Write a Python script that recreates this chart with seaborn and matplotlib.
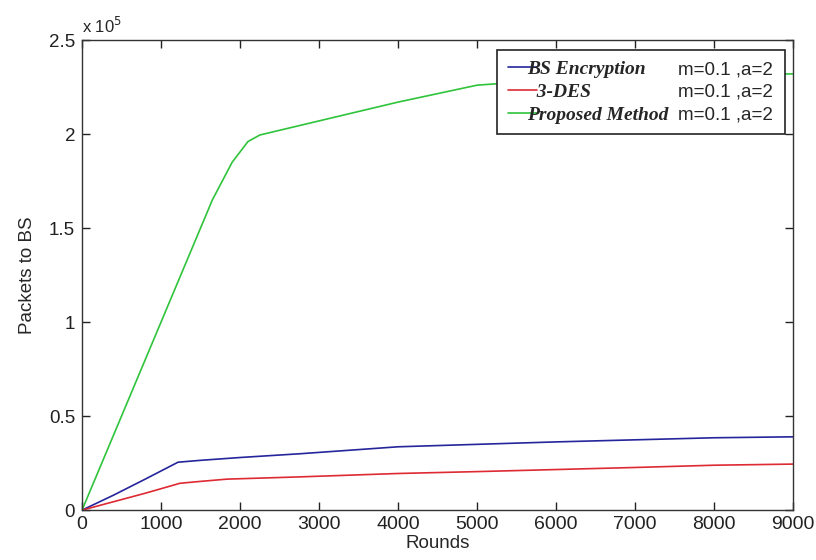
import pandas as pd
import matplotlib
matplotlib.use("Agg")
import matplotlib.pyplot as plt
import seaborn as sns
from matplotlib.ticker import FuncFormatter, MultipleLocator

# values (packets to BS vs. rounds)
methods = ["BS Encryption", "3-DES", "Proposed Method"]
legend_labels = ["BS Encryption", "  3-DES", "Proposed Method"]
param_label = "m=0.1 ,a=2"

rounds_bs = [0, 400, 800, 1215, 1500, 2000, 2760, 4000, 5000, 6000, 7000, 8000, 9000]
packets_bs = [0, 8000, 16500, 25500, 26500, 28000, 30000, 33700, 35000, 36300, 37400, 38500, 39000]

rounds_des = [0, 400, 800, 1240, 1500, 1835, 2760, 4000, 5000, 6000, 7000, 8000, 9000]
packets_des = [0, 4500, 9000, 14300, 15300, 16500, 17700, 19500, 20500, 21600, 22700, 23900, 24500]

rounds_prop = [0, 500, 1000, 1400, 1650, 1900, 2100, 2250, 3000, 4000, 5000, 6000, 7000, 8000, 9000]
packets_prop = [0, 50000, 100000, 140000, 165000, 185000, 196000, 199500, 207000,
                217000, 226000, 229000, 230500, 231500, 232000]

colors = ["#25259c", "#de2a32", "#2fc43b"]

df = pd.concat([
    pd.DataFrame({"Method": methods[0], "Rounds": rounds_bs, "Packets": packets_bs}),
    pd.DataFrame({"Method": methods[1], "Rounds": rounds_des, "Packets": packets_des}),
    pd.DataFrame({"Method": methods[2], "Rounds": rounds_prop, "Packets": packets_prop}),
])

sns.set_style("ticks")
plt.rcParams["font.family"] = ["Liberation Sans", "DejaVu Sans"]

fig = plt.figure(figsize=(8.16, 5.6), dpi=100)
ax = fig.add_axes([0.1005, 0.089, 0.8715, 0.8395])

sns.lineplot(data=df, x="Rounds", y="Packets", hue="Method", hue_order=methods,
             palette=colors, estimator=None, linewidth=1.2, legend=False, ax=ax)

ax.set_xlim(0, 9000)
ax.set_ylim(0, 2.5e5)
ax.xaxis.set_major_locator(MultipleLocator(1000))
ax.yaxis.set_major_locator(MultipleLocator(0.5e5))
ax.yaxis.set_major_formatter(FuncFormatter(lambda v, p: f"{v / 1e5:g}"))
ax.tick_params(direction="in", length=6, width=1, top=True, right=True,
               colors="#222222", pad=3)
ax.tick_params(axis="x", labelsize=14, pad=4)
ax.tick_params(axis="y", labelsize=13.5, pad=5)
for s in ax.spines.values():
    s.set_visible(True)
    s.set_linewidth(1.0)
    s.set_color("#333333")

ax.set_xlabel("Rounds", fontsize=13.5, labelpad=2)
ax.set_ylabel("Packets to BS", fontsize=13.5, labelpad=9)
ax.text(0.0, 1.008, "x 10$^{5}$", transform=ax.transAxes, fontsize=12,
        ha="left", va="bottom")

leg = ax.legend(ax.lines[:3], legend_labels, loc="upper left",
                bbox_to_anchor=(0.584, 0.979, 0.405, 0.0), mode="expand",
                borderaxespad=0, fancybox=False, edgecolor="#222222", framealpha=1,
                handlelength=1.5, handletextpad=-0.5, labelspacing=0.26,
                borderpad=0.55, prop={"family": "Liberation Serif", "weight": "bold",
                                      "style": "italic", "size": 14})
leg.get_frame().set_linewidth(1.2)

# parameter column, aligned with each legend row
fig.canvas.draw()
renderer = fig.canvas.get_renderer()
frame = leg.get_frame().get_window_extent(renderer)
W, H = fig.canvas.get_width_height()
for t in leg.get_texts():
    bb = t.get_window_extent(renderer)
    fig.text((frame.x1 - 12) / W, (bb.y0 + bb.y1) / 2 / H, param_label,
             ha="right", va="center", fontsize=13.5)

fig.savefig("out.png", dpi=100)
